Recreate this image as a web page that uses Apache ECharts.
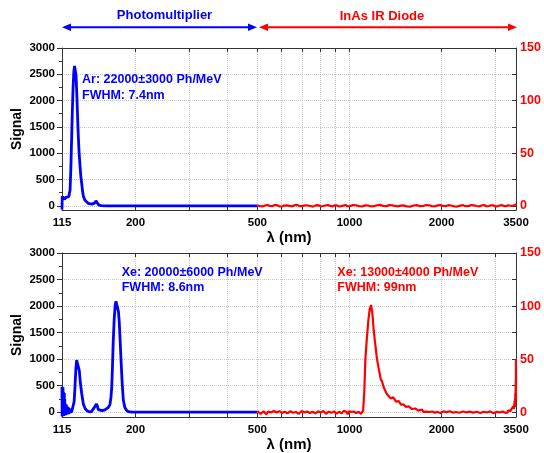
<!DOCTYPE html>
<html>
<head>
<meta charset="utf-8">
<script src="https://cdn.jsdelivr.net/npm/echarts@6.0.0/dist/echarts.min.js"></script>
<style>
  html, body { margin: 0; padding: 0; background: #fff; }
  #chart { width: 544px; height: 453px; }
</style>
</head>
<body>
<div id="chart"></div>
<script>
// ---------------- DATA ----------------
// Tick labels / grid positions (wavelength in nm, signal units)
const xLabelValues = [115, 200, 500, 1000, 2000, 3500];
const xGridValues = [200, 300, 400, 500, 600, 700, 800, 900, 1000, 2000, 3000];
const yLeftLabels = [0, 500, 1000, 1500, 2000, 2500, 3000];
const yLeftMinor = [250, 750, 1250, 1750, 2250, 2750];
const yRightLabels = [0, 50, 100, 150];
const yRightTicks = [0, 25, 50, 75, 100, 125, 150];

// Top panel: Argon, photomultiplier (nm, signal)
const arPMT = [[115,-70],[115.2,185],[115.5,110],[115.8,175],[116.2,125],[116.6,170],[117.1,120],[117.6,155],[118.2,135],[118.8,165],[119.5,180],[120.3,160],[121,170],[121.6,200],[122.2,300],[122.9,700],[123.6,1250],[124.3,1800],[125,2250],[125.7,2550],[126.4,2660],[127.1,2640],[127.8,2480],[128.5,2150],[129.2,1750],[130,1330],[130.8,1000],[131.7,760],[132.5,560],[133.4,420],[134.2,280],[135.1,180],[136.5,110],[138,75],[140,48],[142,35],[144,32],[146,38],[147.3,55],[148.4,95],[149.3,125],[150.2,60],[151.5,18],[154,4],[160,0],[200,0],[300,0],[500,0]];

// Top panel: Argon, InAs IR diode (nm, signal)
const arIR = [[500,0.5],[510,-0.4],[520,-0.6],[530,0.3],[540,0.8],[550,-0.2],[560,-0.3],[570,0.7],[580,0.6],[590,-0.5],[600,-0.7],[612,0.2],[625,0.4],[637,-0.1],[650,-0.5],[662,0.6],[675,0.9],[687,-0.3],[700,-0.4],[715,0.5],[730,0.3],[745,-0.2],[760,-0.8],[775,0.4],[790,0.6],[805,-0.5],[820,-0.2],[835,0.3],[850,0.7],[865,-0.1],[880,-0.6],[895,0.5],[910,0.4],[925,-0.6],[940,-0.3],[955,0.2],[970,0.8],[985,-0.4],[1000,-0.5],[1025,0.6],[1050,0.5],[1075,-0.3],[1100,-0.7],[1125,0.4],[1150,0.3],[1175,-0.6],[1200,-0.4],[1230,0.5],[1260,0.9],[1290,-0.2],[1320,-0.3],[1350,0.6],[1380,0.5],[1410,-0.4],[1440,-0.6],[1470,0.2],[1500,0.4],[1540,-0.5],[1580,-0.8],[1620,0.3],[1660,0.6],[1700,-0.4],[1740,-0.2],[1780,0.7],[1820,0.5],[1860,-0.3],[1900,-0.6],[1940,0.4],[1980,0.7],[2020,-0.2],[2060,-0.4],[2100,0.6],[2150,0.3],[2200,-0.5],[2250,-0.7],[2300,0.2],[2350,0.6],[2400,-0.4],[2450,-0.3],[2500,0.7],[2550,0.4],[2600,-0.2],[2650,-0.6],[2700,0.3],[2750,0.8],[2800,-0.5],[2850,-0.2],[2900,0.4],[2950,0.5],[3000,-0.6],[3050,-0.5],[3100,0.3],[3150,0.6],[3200,-0.3],[3250,-0.4],[3300,0.5],[3350,0.7],[3390,-0.2],[3420,0.2],[3450,0.6],[3470,0.8],[3490,0.3],[3500,1.5]];

// Bottom panel: Xenon, photomultiplier (nm, signal)
const xePMT = [[115,480],[115.1,-80],[115.25,460],[115.4,-60],[115.55,350],[115.7,-70],[115.85,470],[116,-50],[116.2,380],[116.4,-70],[116.6,300],[116.8,-60],[117,360],[117.2,-50],[117.4,250],[117.6,-60],[117.8,150],[118,-40],[118.25,140],[118.5,-50],[118.75,150],[119,-40],[119.3,110],[119.6,-30],[119.9,100],[120.2,-40],[120.5,90],[120.8,-30],[121.1,85],[121.4,-20],[121.7,70],[122,-20],[122.4,60],[122.8,-10],[123.2,40],[123.6,0],[124,20],[124.5,5],[125.1,20],[126,200],[126.8,480],[127.6,800],[128.4,980],[129.2,1010],[130,950],[131,780],[132,560],[133.4,348],[135.1,150],[136.8,70],[139,25],[141.3,8],[143.5,10],[145.6,40],[147.8,120],[148.9,159],[150,120],[151.1,50],[152.6,20],[155.5,30],[158.8,45],[163,90],[165,150],[166.2,280],[167.2,474],[168.1,850],[169,1300],[170.3,1750],[171.5,2000],[172.6,2090],[173.6,2104],[174.6,2060],[175.8,1900],[176.9,1700],[178.1,1350],[179.3,980],[180.8,560],[182.4,230],[184.5,90],[187.1,32],[190,10],[195,3],[200,0],[300,0],[500,0]];

// Bottom panel: Xenon, InAs IR diode (nm, signal)
const xeIR = [[500,1.2],[506,-0.4],[512,-1.5],[518,0.3],[524,0.8],[530,-0.9],[536,-2.0],[542,0.6],[548,1.6],[554,-0.3],[560,-0.9],[566,1.1],[572,2.1],[578,-0.2],[584,-1.3],[590,1.0],[596,0.5],[602,-0.6],[608,-1.8],[614,0.4],[620,1.4],[627,-1.0],[634,-0.6],[641,0.9],[648,1.9],[655,-0.5],[662,-1.7],[669,0.2],[676,0.7],[683,-1.5],[690,-1.1],[698,1.2],[705,2.2],[712,-0.3],[720,-1.4],[727,0.6],[735,1.0],[742,-0.8],[750,-2.1],[758,0.5],[766,1.5],[774,-1.1],[782,-0.8],[790,0.9],[798,1.8],[806,-0.4],[814,-1.6],[822,1.2],[830,0.6],[838,-1.5],[847,-1.2],[855,0.5],[864,2.0],[872,-0.6],[881,-1.9],[890,0.8],[898,1.1],[906,-1.3],[915,-0.7],[924,0.4],[933,1.7],[942,-0.9],[951,-1.5],[960,1.4],[969,2.6],[978,0.2],[987,-2.0],[996,0.9],[1005,2.4],[1014,0.3],[1024,-1.0],[1033,0.7],[1043,1.3],[1052,-0.8],[1062,-1.6],[1071,0.5],[1081,0.8],[1090,-1.5],[1100,-1.2],
[1108,1.5],[1118,20],[1127,50],[1140,70],[1152,86],[1164,97],[1176,101],[1188,93],[1200,77],[1215,63],[1230,50],[1250,39],[1265,31],[1278,29],[1295,23],[1310,22],[1326,17],[1343,18],[1365,13],[1390,14],[1420,10],[1449,10.5],[1475,7],[1500,7.5],[1530,5],[1562,5.5],[1600,3],[1640,3.5],[1680,1.5],[1726,2.5],
[1743,0.4],[1760,-1.2],[1780,0.5],[1800,1.6],[1820,0.2],[1840,-0.8],[1860,0.6],[1880,1.3],[1900,-0.4],[1920,-1.5],[1940,0.3],[1960,0.9],[1980,-0.7],[2000,-1.1],[2025,0.8],[2050,1.7],[2075,0.1],[2100,-0.6],[2125,0.9],[2150,1.2],[2175,-0.3],[2200,-1.4],[2230,0.2],[2260,0.8],[2290,-0.5],[2320,-1.0],[2350,0.7],[2380,1.5],[2410,-0.2],[2440,-0.7],[2470,0.6],[2500,1.1],[2535,-0.4],[2570,-1.3],[2605,0.5],[2640,0.6],[2675,-0.8],[2710,-0.9],[2745,0.4],[2780,1.4],[2815,-0.3],[2850,-1.2],[2885,0.8],[2920,0.7],[2955,-0.9],[2990,-0.5],[3025,0.4],[3060,1.6],[3095,-0.2],[3130,-1.0],[3165,0.6],[3200,0.9],[3230,-0.6],[3260,0.3],[3280,-0.4],[3300,1.8],
[3320,0.6],[3340,2.5],[3355,0.9],[3370,1.5],[3385,3.2],[3400,4],[3410,1.8],[3420,3],[3430,5.5],[3440,7],[3448,3],[3455,4],[3460,9],[3465,11],[3470,5],[3475,6],[3479,14],[3483,18],[3486,8],[3489,9],[3492,24],[3494,30],[3496,12],[3497,15],[3499,50],[3500,25]];

// Annotation texts
const topLabels = { pmt: 'Photomultiplier', ir: 'InAs IR Diode' };
const arNotes = ['Ar: 22000\u00b13000 Ph/MeV', 'FWHM: 7.4nm'];
const xePmtNotes = ['Xe: 20000\u00b16000 Ph/MeV', 'FWHM: 8.6nm'];
const xeIrNotes = ['Xe: 13000\u00b14000 Ph/MeV', 'FWHM: 99nm'];

// ---------------- STYLE / LAYOUT ----------------
const FONT = '"Liberation Sans", Arial, Helvetica, sans-serif';
const BLUE = '#0000ff';
const RED = '#ff0000';
const AXIS = '#333333';
const GRIDC = '#c8c8c8';
const X_MIN = 115, X_MAX = 3500;
const L = v => Math.log10(v);

const panels = [
  { top: 48, height: 162, yMinL: -80, yMinR: -4 },
  { top: 253, height: 164, yMinL: -90, yMinR: -4.5 }
];

const grids = [], xAxes = [], yAxes = [];
panels.forEach((p, gi) => {
  grids.push({ left: 62, right: 28, top: p.top, height: p.height, containLabel: false, outerBoundsMode: 'none' });
  // data axis (true log scale, hidden)
  xAxes.push({ type: 'log', logBase: 10, gridIndex: gi, min: X_MIN, max: X_MAX, position: 'bottom', show: false,
    axisLine: { onZero: false } });
  // decorative bottom axis, in log10 units
  xAxes.push({ type: 'value', gridIndex: gi, position: 'bottom', min: L(X_MIN), max: L(X_MAX),
    axisLine: { show: true, onZero: false, lineStyle: { color: AXIS, width: 1 } },
    axisTick: { show: true, inside: true, length: 4, customValues: xGridValues.map(L), lineStyle: { color: AXIS } },
    axisLabel: { show: true, customValues: xLabelValues.map(L), showMinLabel: true, showMaxLabel: true,
      formatter: v => String(Math.round(Math.pow(10, v))), color: '#000', fontWeight: 'bold', fontSize: 11.5,
      fontFamily: FONT, margin: 7 },
    splitLine: { show: true, lineStyle: { type: 'dotted', color: GRIDC, width: 1 } },
    minorTick: { show: false },
    name: '\u03bb (nm)', nameLocation: 'middle', nameGap: 20,
    nameTextStyle: { color: '#000', fontWeight: 'bold', fontSize: 15, fontFamily: FONT } });
  // decorative top axis
  xAxes.push({ type: 'value', gridIndex: gi, position: 'top', min: L(X_MIN), max: L(X_MAX),
    axisLine: { show: true, onZero: false, lineStyle: { color: AXIS, width: 1 } },
    axisTick: { show: true, inside: true, length: 4, customValues: xGridValues.map(L), lineStyle: { color: AXIS } },
    axisLabel: { show: false }, splitLine: { show: false } });

  // left main axis
  yAxes.push({ type: 'value', gridIndex: gi, position: 'left', min: p.yMinL, max: 3000,
    axisLine: { show: true, onZero: false, lineStyle: { color: AXIS, width: 1 } },
    axisTick: { show: true, inside: false, length: 5, customValues: yLeftLabels, lineStyle: { color: AXIS } },
    axisLabel: { customValues: yLeftLabels, formatter: v => String(v), color: '#000', fontWeight: 'bold',
      fontSize: 11.5, fontFamily: FONT, margin: 7 },
    splitLine: { show: true, lineStyle: { type: 'dotted', color: GRIDC, width: 1 } },
    name: 'Signal', nameLocation: 'middle', nameGap: 38, nameRotate: 90, nameMoveOverlap: false,
    nameTextStyle: { color: '#000', fontWeight: 'bold', fontSize: 14, fontFamily: FONT } });
  // left minor ticks
  yAxes.push({ type: 'value', gridIndex: gi, position: 'left', min: p.yMinL, max: 3000,
    axisLine: { show: false, onZero: false },
    axisTick: { show: true, inside: false, length: 3, customValues: yLeftMinor, lineStyle: { color: AXIS } },
    axisLabel: { show: false }, splitLine: { show: false } });
  // right axis (IR diode)
  yAxes.push({ type: 'value', gridIndex: gi, position: 'right', min: p.yMinR, max: 150,
    axisLine: { show: true, onZero: false, lineStyle: { color: AXIS, width: 1 } },
    axisTick: { show: true, inside: true, length: 4, customValues: yRightTicks, lineStyle: { color: AXIS } },
    axisLabel: { customValues: yRightLabels, formatter: v => String(v), color: RED, fontWeight: 'bold',
      fontSize: 12.5, fontFamily: FONT, margin: 4 },
    splitLine: { show: false } });
});

function lineSeries(data, xi, yi, color, w) {
  return { type: 'line', data: data, xAxisIndex: xi, yAxisIndex: yi, showSymbol: false, symbol: 'none',
    lineStyle: { color: color, width: w }, itemStyle: { color: color }, clip: true, z: 3, silent: true };
}

const series = [
  lineSeries(arPMT, 0, 0, BLUE, 2.8),
  lineSeries(arIR, 0, 2, RED, 2.2),
  lineSeries(xePMT, 3, 3, BLUE, 2.8),
  lineSeries(xeIR, 3, 5, RED, 2.2)
];

function txt(text, x, y, color, size, align) {
  return { type: 'text', z: 10, silent: true,
    style: { text: text, x: x, y: y, fill: color, font: 'bold ' + size + 'px ' + FONT,
      align: align || 'left', verticalAlign: 'middle' } };
}
function arrowHead(tipX, y, dir, color) {
  const b = tipX - dir * 9;
  return { type: 'polygon', z: 10, silent: true,
    shape: { points: [[tipX, y], [b, y - 3.8], [b, y + 3.8]] }, style: { fill: color } };
}
const AY = 27.3;
const graphic = [
  txt(topLabels.pmt, 164.5, 15.7, BLUE, 13, 'center'),
  txt(topLabels.ir, 382, 16.5, RED, 13, 'center'),
  { type: 'line', z: 10, silent: true, shape: { x1: 68, y1: AY, x2: 251, y2: AY }, style: { stroke: BLUE, lineWidth: 2 } },
  arrowHead(62, AY, -1, BLUE),
  arrowHead(257, AY, 1, BLUE),
  { type: 'line', z: 10, silent: true, shape: { x1: 265, y1: AY, x2: 510, y2: AY }, style: { stroke: RED, lineWidth: 2 } },
  arrowHead(259, AY, -1, RED),
  arrowHead(517, AY, 1, RED),
  txt(arNotes[0], 82, 79.3, BLUE, 12.5),
  txt(arNotes[1], 82, 95.7, BLUE, 12.5),
  txt(xePmtNotes[0], 121.7, 272.3, BLUE, 12.5),
  txt(xePmtNotes[1], 121.7, 288, BLUE, 12.5),
  txt(xeIrNotes[0], 337.3, 272.3, RED, 12.5),
  txt(xeIrNotes[1], 337.3, 288, RED, 12.5)
];

const chart = echarts.init(document.getElementById('chart'), null, { renderer: 'canvas', width: 544, height: 453 });
chart.setOption({
  animation: false,
  backgroundColor: '#ffffff',
  grid: grids,
  xAxis: xAxes,
  yAxis: yAxes,
  series: series,
  graphic: graphic
});
</script>
</body>
</html>
